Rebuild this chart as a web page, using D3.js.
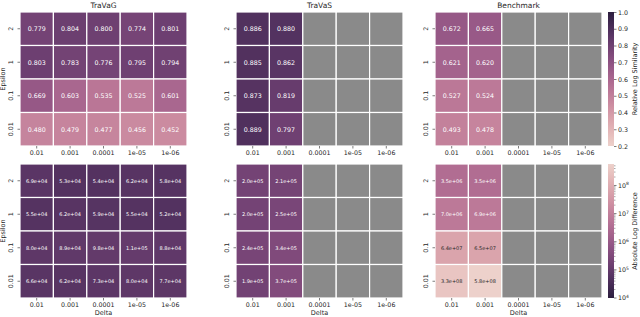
<!DOCTYPE html>
<html>
<head>
<meta charset="utf-8">
<script src="https://cdn.jsdelivr.net/npm/d3@7"></script>
<style>
  body { margin: 0; background: #fff; }
  text { font-family: "DejaVu Sans", sans-serif; fill: #262626; }
</style>
</head>
<body>
<svg width="640" height="317"></svg>
<script>
// data
const deltas = ["0.01", "0.001", "0.0001", "1e-05", "1e-06"];
const epsilons = ["2", "1", "0.1", "0.01"];
const titles = ["TraVaG", "TraVaS", "Benchmark"];

const travagSim = [
    [0.779, 0.804, 0.800, 0.774, 0.801],
    [0.803, 0.783, 0.776, 0.795, 0.794],
    [0.669, 0.603, 0.535, 0.525, 0.601],
    [0.480, 0.479, 0.477, 0.456, 0.452]
];
const travasSim = [
    [0.886, 0.880, null, null, null],
    [0.885, 0.862, null, null, null],
    [0.873, 0.819, null, null, null],
    [0.889, 0.797, null, null, null]
];
const benchSim = [
    [0.672, 0.665, null, null, null],
    [0.621, 0.620, null, null, null],
    [0.527, 0.524, null, null, null],
    [0.493, 0.478, null, null, null]
];
const travagDiff = [
    [6.9e4, 5.3e4, 5.4e4, 6.2e4, 5.8e4],
    [5.5e4, 6.2e4, 5.9e4, 5.5e4, 5.2e4],
    [8.0e4, 8.9e4, 9.8e4, 1.1e5, 8.8e4],
    [6.6e4, 6.2e4, 7.3e4, 8.0e4, 7.7e4]
];
const travasDiff = [
    [2.0e5, 2.1e5, null, null, null],
    [2.0e5, 2.5e5, null, null, null],
    [2.4e5, 3.4e5, null, null, null],
    [1.9e5, 3.7e5, null, null, null]
];
const benchDiff = [
    [3.5e6, 3.5e6, null, null, null],
    [7.0e6, 6.9e6, null, null, null],
    [6.4e7, 6.5e7, null, null, null],
    [3.3e8, 5.8e8, null, null, null]
];
const simTicks = [0.2, 0.3, 0.4, 0.5, 0.6, 0.7, 0.8, 0.9, 1.0];
const diffTicks = [4, 5, 6, 7, 8];

// seaborn cubehelix_palette (start 0, rot .4, hue .8, light .85, dark .15)
function cubehelix(t) {
    const x = 0.85 + (0.15 - 0.85) * t;
    const a = 0.8 * x * (1 - x) / 2;
    const phi = 2 * Math.PI * (0.4 * x);
    const c = Math.cos(phi), s = Math.sin(phi);
    const clip = v => Math.max(0, Math.min(1, v));
    const r = clip(x + a * (-0.14861 * c + 1.78277 * s));
    const g = clip(x + a * (-0.29227 * c - 0.90649 * s));
    const b = clip(x + a * (1.97294 * c));
    return d3.rgb(r * 255, g * 255, b * 255);
}
function textColor(col) {
    const lin = v => { v /= 255; return v <= 0.03928 ? v / 12.92 : Math.pow((v + 0.055) / 1.055, 2.4); };
    const l = 0.2126 * lin(col.r) + 0.7152 * lin(col.g) + 0.0722 * lin(col.b);
    return l > 0.408 ? "#262626" : "#ffffff";
}
function sci(v) {
    const [m, e] = v.toExponential(1).split("e");
    const n = +e;
    return m + "e" + (n < 0 ? "-" : "+") + String(Math.abs(n)).padStart(2, "0");
}

const simScale = d3.scaleLinear().domain([0.2, 1.0]).range([0, 1]).clamp(true);
const diffScale = d3.scaleLog().domain([1e4, 5.8e8]).range([1, 0]).clamp(true);

const svg = d3.select("svg");

const panelX = [20, 236, 435];
const panelW = 167;
const rowY = [12, 164];
const rowH = 134;

const rows = [
    { data: [travagSim, travasSim, benchSim], color: v => cubehelix(simScale(v)), fmt: d3.format(".3f"), size: 6.3 },
    { data: [travagDiff, travasDiff, benchDiff], color: v => cubehelix(diffScale(v)), fmt: sci, size: 5 }
];

rows.forEach((row, ri) => {
    row.data.forEach((grid, pi) => {
        const x = d3.scaleBand().domain(deltas).range([panelX[pi], panelX[pi] + panelW]);
        const y = d3.scaleBand().domain(epsilons).range([rowY[ri], rowY[ri] + rowH]);
        const g = svg.append("g");

        const cells = [];
        grid.forEach((r, i) => r.forEach((v, j) => cells.push({ eps: epsilons[i], delta: deltas[j], v })));

        g.selectAll("rect").data(cells).join("rect")
            .attr("x", d => x(d.delta))
            .attr("y", d => y(d.eps))
            .attr("width", x.bandwidth())
            .attr("height", y.bandwidth())
            .attr("fill", d => d.v == null ? "#8a8a8a" : row.color(d.v))
            .attr("stroke", "#fff")
            .attr("stroke-width", 1.2);

        g.selectAll("text.ann").data(cells.filter(d => d.v != null)).join("text")
            .attr("class", "ann")
            .attr("x", d => x(d.delta) + x.bandwidth() / 2)
            .attr("y", d => y(d.eps) + y.bandwidth() / 2)
            .attr("text-anchor", "middle")
            .attr("dominant-baseline", "central")
            .style("font-size", row.size + "px")
            .style("fill", d => textColor(row.color(d.v)))
            .text(d => row.fmt(d.v));

        // x axis
        const xAxis = svg.append("g")
            .attr("transform", `translate(0,${rowY[ri] + rowH})`)
            .call(d3.axisBottom(x).tickSize(2.5).tickPadding(2));
        xAxis.select(".domain").remove();
        xAxis.selectAll("line").attr("stroke", "#262626").attr("stroke-width", 0.6);
        xAxis.selectAll("text").style("font-size", "6.3px").attr("font-family", null);

        // y axis
        const yAxis = svg.append("g")
            .attr("transform", `translate(${panelX[pi]},0)`)
            .call(d3.axisLeft(y).tickSize(2.5).tickPadding(2));
        yAxis.select(".domain").remove();
        yAxis.selectAll("line").attr("stroke", "#262626").attr("stroke-width", 0.6);
        yAxis.selectAll("text")
            .style("font-size", "6.3px")
            .attr("font-family", null)
            .attr("x", null).attr("dy", null)
            .attr("text-anchor", "middle")
            .attr("transform", "translate(-7,0) rotate(-90)");

        if (ri === 0) {
            svg.append("text")
                .attr("x", panelX[pi] + panelW / 2)
                .attr("y", 8)
                .attr("text-anchor", "middle")
                .style("font-size", "7.5px")
                .text(titles[pi]);
        } else {
            svg.append("text")
                .attr("x", panelX[pi] + panelW / 2)
                .attr("y", 315)
                .attr("text-anchor", "middle")
                .style("font-size", "6.5px")
                .text("Delta");
        }
        if (pi === 0) {
            svg.append("text")
                .attr("transform", `translate(5,${rowY[ri] + rowH / 2}) rotate(-90)`)
                .attr("text-anchor", "middle")
                .style("font-size", "6.5px")
                .text("Epsilon");
        }
    });
});

// colorbars
const cbX = 608, cbW = 6;
const defs = svg.append("defs");

function gradient(id, colorAt) {
    const grad = defs.append("linearGradient").attr("id", id)
        .attr("x1", 0).attr("y1", 1).attr("x2", 0).attr("y2", 0);
    d3.range(0, 1.0001, 0.05).forEach(t => {
        grad.append("stop").attr("offset", t).attr("stop-color", colorAt(t));
    });
}
gradient("gradSim", t => cubehelix(t));
gradient("gradDiff", t => cubehelix(1 - t));

// similarity colorbar
const cbSimY = d3.scaleLinear().domain([0.2, 1.0]).range([rowY[0] + rowH, rowY[0]]);
svg.append("rect").attr("x", cbX).attr("y", rowY[0]).attr("width", cbW).attr("height", rowH)
    .attr("fill", "url(#gradSim)");
const simAxis = svg.append("g").attr("transform", `translate(${cbX + cbW},0)`)
    .call(d3.axisRight(cbSimY).tickValues(simTicks).tickFormat(d3.format(".1f")).tickSize(2.5).tickPadding(1.5));
simAxis.select(".domain").remove();
simAxis.selectAll("line").attr("stroke", "#262626").attr("stroke-width", 0.6);
simAxis.selectAll("text").style("font-size", "6.3px").attr("font-family", null);
svg.append("text")
    .attr("transform", `translate(637,${rowY[0] + rowH / 2}) rotate(-90)`)
    .attr("text-anchor", "middle")
    .style("font-size", "6.5px")
    .text("Relative Log Similarity");

// difference colorbar (log)
const cbDiffY = d3.scaleLog().domain([1e4, 5.8e8]).range([rowY[1] + rowH, rowY[1]]);
svg.append("rect").attr("x", cbX).attr("y", rowY[1]).attr("width", cbW).attr("height", rowH)
    .attr("fill", "url(#gradDiff)");
const minor = [];
[4, 5, 6, 7, 8].forEach(e => d3.range(2, 10).forEach(m => {
    const v = m * Math.pow(10, e);
    if (v <= 5.8e8) minor.push(v);
}));
svg.append("g").selectAll("line").data(minor).join("line")
    .attr("x1", cbX + cbW).attr("x2", cbX + cbW + 1.5)
    .attr("y1", d => cbDiffY(d)).attr("y2", d => cbDiffY(d))
    .attr("stroke", "#262626").attr("stroke-width", 0.4);
const major = svg.append("g").selectAll("g").data(diffTicks).join("g")
    .attr("transform", d => `translate(${cbX + cbW},${cbDiffY(Math.pow(10, d))})`);
major.append("line").attr("x2", 2.5).attr("stroke", "#262626").attr("stroke-width", 0.6);
const lbl = major.append("text").attr("x", 4).attr("dy", "0.32em").style("font-size", "6.3px");
lbl.append("tspan").text("10");
lbl.append("tspan").attr("dy", "-0.45em").style("font-size", "4.5px").text(d => d);
svg.append("text")
    .attr("transform", `translate(637,${rowY[1] + rowH / 2}) rotate(-90)`)
    .attr("text-anchor", "middle")
    .style("font-size", "6.5px")
    .text("Absolute Log Difference");
</script>
</body>
</html>
